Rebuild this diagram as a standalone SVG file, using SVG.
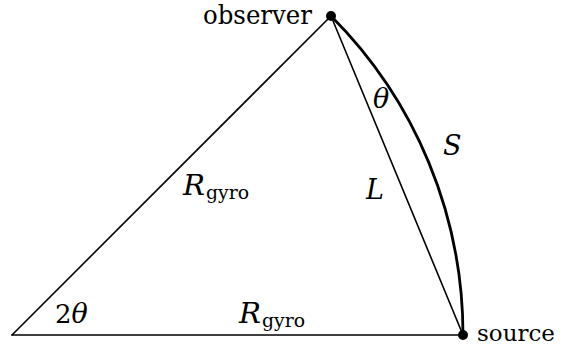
<svg xmlns="http://www.w3.org/2000/svg" width="563" height="352" viewBox="0 0 563 352">
<style>
.ln{stroke:#000;stroke-width:1.6;fill:none;stroke-linecap:round}
.arc{stroke:#000;stroke-width:2.8;fill:none}
.t{font-family:"DejaVu Serif","Liberation Serif",serif;font-size:26px;fill:#000}
.m{font-family:"DejaVu Serif","Liberation Serif",serif;font-style:italic;font-size:27px;fill:#000}
.s{font-family:"DejaVu Serif","Liberation Serif",serif;font-size:18px;fill:#000}
.dot{fill:#000}
</style>
<rect width="563" height="352" fill="#fff"/>
<g id="connectors">
<line class="ln" x1="12" y1="335" x2="331" y2="16"/>
<line class="ln" x1="12" y1="335" x2="463" y2="335"/>
<line class="ln" x1="331" y1="16" x2="463" y2="335"/>
<path class="arc" d="M331 16 A451 451 0 0 1 463 335"/>
</g>
<g id="center">
<text class="t" x="55" y="323" font-size="27">2<tspan class="m">θ</tspan></text>
</g>
<g id="observer">
<circle class="dot" cx="331" cy="16" r="5"/>
<text class="t" x="203" y="24" textLength="109" lengthAdjust="spacingAndGlyphs">observer</text>
</g>
<g id="source">
<circle class="dot" cx="463" cy="335" r="5"/>
<text class="t" x="477" y="341" style="font-size:23px">source</text>
</g>
<g id="labels">
<text class="m" x="373" y="108">θ</text>
<text class="m" x="443" y="155">S</text>
<text class="m" x="366" y="199">L</text>
<text class="m" x="183" y="195" textLength="22" lengthAdjust="spacingAndGlyphs">R</text>
<text class="s" x="206" y="199" textLength="43" lengthAdjust="spacingAndGlyphs">gyro</text>
<text class="m" x="239" y="323" textLength="22" lengthAdjust="spacingAndGlyphs">R</text>
<text class="s" x="262" y="327" textLength="43" lengthAdjust="spacingAndGlyphs">gyro</text>
</g>
</svg>
